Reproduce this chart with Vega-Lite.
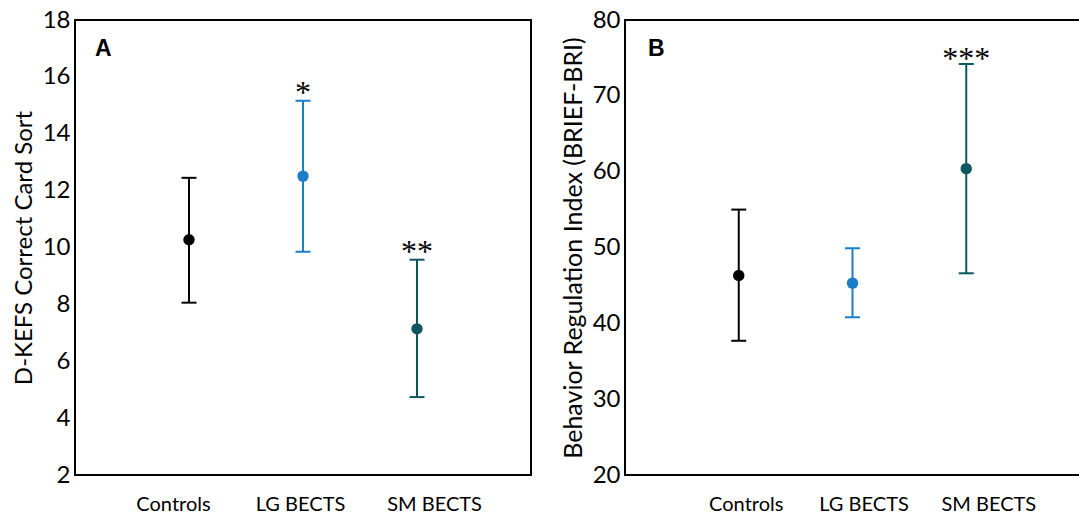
{
  "$schema": "https://vega.github.io/schema/vega-lite/v6.json",
  "padding": {"left": 11, "top": 7, "right": 0, "bottom": 0},
  "spacing": 28,
  "config": {
    "font": "Lato",
    "view": {"stroke": "#000000", "strokeWidth": 2},
    "axisY": {"labelFontSize": 24, "labelPadding": 5, "labelColor": "#000", "ticks": false, "domain": false, "grid": false, "titleFontSize": 24, "titleFontWeight": "normal", "titleColor": "#000", "titlePadding": 6, "labelFont": "Lato", "titleFont": "Lato"},
    "axisX": {"labelFontSize": 20, "labelPadding": 19, "labelColor": "#000", "ticks": false, "domain": false, "grid": false, "labelAngle": 0, "title": null, "labelFont": "Lato"},
    "title": {"font": "Liberation Sans", "fontSize": 23, "fontWeight": "bold", "color": "#000", "anchor": "start", "frame": "group", "baseline": "alphabetic", "offset": 0}
  },
  "datasets": {
    "a": [
      {"group": "Controls", "mean": 10.27, "lower": 8.06, "upper": 12.45, "star": ""},
      {"group": "LG BECTS", "mean": 12.51, "lower": 9.85, "upper": 15.16, "star": "*"},
      {"group": "SM BECTS", "mean": 7.14, "lower": 4.74, "upper": 9.57, "star": "**"}
    ],
    "b": [
      {"group": "Controls", "mean": 46.3, "lower": 37.7, "upper": 55.0, "star": ""},
      {"group": "LG BECTS", "mean": 45.3, "lower": 40.8, "upper": 49.9, "star": ""},
      {"group": "SM BECTS", "mean": 60.4, "lower": 46.6, "upper": 74.2, "star": "***"}
    ]
  },
  "hconcat": [
    {
      "width": 456,
      "height": 455,
      "title": {"text": "A", "dx": 20, "dy": 57},
      "data": {"name": "a"},
      "encoding": {
        "x": {"field": "group", "type": "nominal", "sort": null, "scale": {"type": "point", "padding": 1},
              "axis": {"labelOffset": {"expr": "datum.value == 'Controls' ? -16 : datum.value == 'SM BECTS' ? 17 : -3"}}},
        "color": {"field": "group", "type": "nominal", "legend": null,
                  "scale": {"domain": ["Controls", "LG BECTS", "SM BECTS"], "range": ["#000000", "#1b7ec6", "#0e5760"]}}
      },
      "layer": [
        {"mark": {"type": "rule", "strokeWidth": 2},
         "encoding": {"y": {"field": "lower", "type": "quantitative", "scale": {"domain": [2, 18], "nice": false},
                            "axis": {"values": [2, 4, 6, 8, 10, 12, 14, 16, 18], "title": "D-KEFS Correct Card Sort"}},
                      "y2": {"field": "upper"}}},
        {"mark": {"type": "tick", "size": 15, "thickness": 2, "opacity": 1},
         "encoding": {"y": {"field": "upper", "type": "quantitative"}}},
        {"mark": {"type": "tick", "size": 15, "thickness": 2, "opacity": 1},
         "encoding": {"y": {"field": "lower", "type": "quantitative"}}},
        {"mark": {"type": "point", "shape": "circle", "filled": true, "size": 130, "opacity": 1},
         "encoding": {"y": {"field": "mean", "type": "quantitative"}}},
        {"mark": {"type": "text", "font": "Liberation Serif", "fontSize": 32, "baseline": "alphabetic", "dy": 2, "color": "#000"},
         "encoding": {"y": {"field": "upper", "type": "quantitative"}, "text": {"field": "star"}, "color": {"value": "#000"}}}
      ]
    },
    {
      "width": 455,
      "height": 455,
      "title": {"text": "B", "dx": 23, "dy": 57},
      "data": {"name": "b"},
      "encoding": {
        "x": {"field": "group", "type": "nominal", "sort": null, "scale": {"type": "point", "padding": 1},
              "axis": {"labelOffset": {"expr": "datum.value == 'Controls' ? 7 : datum.value == 'SM BECTS' ? 22 : 11"}}},
        "color": {"field": "group", "type": "nominal", "legend": null,
                  "scale": {"domain": ["Controls", "LG BECTS", "SM BECTS"], "range": ["#000000", "#1b7ec6", "#0e5760"]}}
      },
      "layer": [
        {"mark": {"type": "rule", "strokeWidth": 2},
         "encoding": {"y": {"field": "lower", "type": "quantitative", "scale": {"domain": [20, 80], "nice": false},
                            "axis": {"values": [20, 30, 40, 50, 60, 70, 80], "title": "Behavior Regulation Index (BRIEF-BRI)", "titleFontSize": 25, "titlePadding": 6}},
                      "y2": {"field": "upper"}}},
        {"mark": {"type": "tick", "size": 15, "thickness": 2, "opacity": 1},
         "encoding": {"y": {"field": "upper", "type": "quantitative"}}},
        {"mark": {"type": "tick", "size": 15, "thickness": 2, "opacity": 1},
         "encoding": {"y": {"field": "lower", "type": "quantitative"}}},
        {"mark": {"type": "point", "shape": "circle", "filled": true, "size": 130, "opacity": 1},
         "encoding": {"y": {"field": "mean", "type": "quantitative"}}},
        {"mark": {"type": "text", "font": "Liberation Serif", "fontSize": 32, "baseline": "alphabetic", "dy": 5, "color": "#000"},
         "encoding": {"y": {"field": "upper", "type": "quantitative"}, "text": {"field": "star"}, "color": {"value": "#000"}}}
      ]
    }
  ]
}
